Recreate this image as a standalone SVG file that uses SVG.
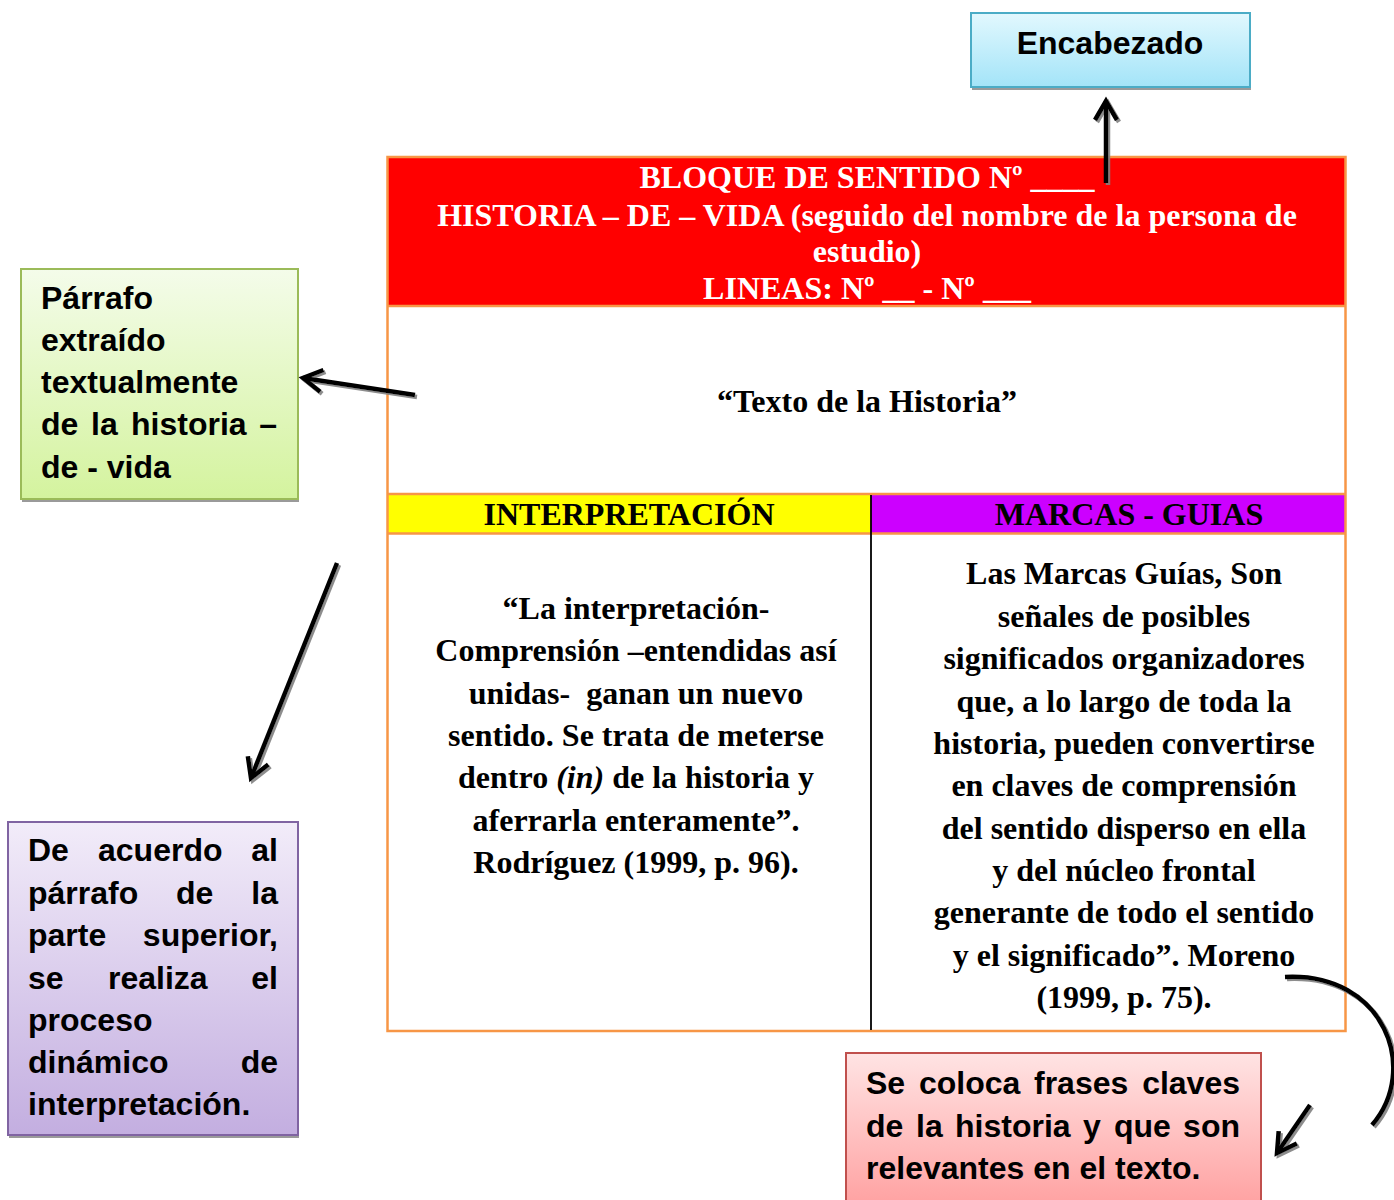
<svg xmlns="http://www.w3.org/2000/svg" width="1394" height="1200" viewBox="0 0 1394 1200">
<defs>
<style>
.tr{font-family:"Liberation Serif","Times New Roman",serif;font-weight:bold;font-size:32px;fill:#000}
.ar{font-family:"Liberation Sans",Arial,sans-serif;font-weight:bold;font-size:32px;fill:#000}
.w{fill:#fff}
.m{text-anchor:middle}
.e{text-anchor:end}
.it{font-style:italic}
.shadow{fill:#9a9a9a}
.grid{stroke:#F79646;stroke-width:2.5;fill:none}
.arrow{stroke:#000;stroke-width:4.5;fill:none;stroke-linecap:butt}
</style>
<linearGradient id="gBlue" x1="0" y1="0" x2="0" y2="1"><stop offset="0" stop-color="#E2F8FE"/><stop offset="1" stop-color="#A3E4F8"/></linearGradient>
<linearGradient id="gGreen" x1="0" y1="0" x2="0" y2="1"><stop offset="0" stop-color="#F4FCEA"/><stop offset="1" stop-color="#D4F39E"/></linearGradient>
<linearGradient id="gPurple" x1="0" y1="0" x2="0" y2="1"><stop offset="0" stop-color="#F2ECF9"/><stop offset="1" stop-color="#C3AEE0"/></linearGradient>
<linearGradient id="gPink" x1="0" y1="0" x2="0" y2="1"><stop offset="0" stop-color="#FFE4E4"/><stop offset="1" stop-color="#FF9E9E"/></linearGradient>
<marker id="head" markerUnits="userSpaceOnUse" viewBox="-30 -20 40 40" markerWidth="40" markerHeight="40" refX="0" refY="0" orient="auto" overflow="visible">
<path d="M-19,-11 L0,0 L-19,11" fill="none" stroke="#000" stroke-width="4.5" stroke-linejoin="miter"/>
</marker>
<filter id="dsh" filterUnits="userSpaceOnUse" x="0" y="0" width="1394" height="1200">
<feDropShadow dx="2" dy="2" stdDeviation="0.7" flood-color="#808080" flood-opacity="0.9"/>
</filter>
</defs>
<rect width="1394" height="1200" fill="#fff"/>

<g id="encabezado">
<rect class="shadow" x="972" y="16" width="279" height="74"/>
<rect x="971" y="13" width="279" height="74" fill="url(#gBlue)" stroke="#4BACC6" stroke-width="2"/>
<text class="ar m" x="1110" y="54">Encabezado</text>
</g>

<g id="tabla">
<rect x="387" y="157" width="959" height="149" fill="#FF0000"/>
<rect x="387" y="494" width="484" height="39" fill="#FFFF00"/>
<rect x="871" y="494" width="475" height="39" fill="#CC00FF"/>
<rect class="grid" x="387.5" y="157" width="958" height="874"/>
<line class="grid" x1="387" y1="306" x2="1346" y2="306"/>
<line class="grid" x1="387" y1="494" x2="1346" y2="494"/>
<line class="grid" x1="387" y1="533.5" x2="1346" y2="533.5"/>
<line x1="871" y1="495" x2="871" y2="1030" stroke="#000" stroke-width="1.8"/>
<text class="tr w m" x="867" y="188">BLOQUE DE SENTIDO Nº ____</text>
<text class="tr w m" x="867" y="226">HISTORIA – DE – VIDA (seguido del nombre de la persona de</text>
<text class="tr w m" x="867" y="262">estudio)</text>
<text class="tr w m" x="867" y="299">LINEAS: Nº __ - Nº ___</text>
<text class="tr m" x="867" y="412">“Texto de la Historia”</text>
<text class="tr m" x="629" y="525">INTERPRETACIÓN</text>
<text class="tr m" x="1129" y="525">MARCAS - GUIAS</text>
<g class="tr m">
<text x="636" y="619">“La interpretación-</text>
<text x="636" y="661">Comprensión –entendidas así</text>
<text x="636" y="704">unidas-&#160; ganan un nuevo</text>
<text x="636" y="746">sentido. Se trata de meterse</text>
<text x="636" y="788">dentro <tspan class="it">(in)</tspan> de la historia y</text>
<text x="636" y="831">aferrarla enteramente”.</text>
<text x="636" y="873">Rodríguez (1999, p. 96).</text>
</g>
<g class="tr m">
<text x="1124" y="584">Las Marcas Guías, Son</text>
<text x="1124" y="627">señales de posibles</text>
<text x="1124" y="669">significados organizadores</text>
<text x="1124" y="712">que, a lo largo de toda la</text>
<text x="1124" y="754">historia, pueden convertirse</text>
<text x="1124" y="796">en claves de comprensión</text>
<text x="1124" y="839">del sentido disperso en ella</text>
<text x="1124" y="881">y del núcleo frontal</text>
<text x="1124" y="923">generante de todo el sentido</text>
<text x="1124" y="966">y el significado”. Moreno</text>
<text x="1124" y="1008">(1999, p. 75).</text>
</g>
</g>

<g id="parrafo">
<rect class="shadow" x="22" y="272" width="277" height="230"/>
<rect x="21" y="269" width="277" height="230" fill="url(#gGreen)" stroke="#9BBB59" stroke-width="2"/>
<text class="ar" x="41" y="309">Párrafo</text>
<text class="ar" x="41" y="351">extraído</text>
<text class="ar" x="41" y="393">textualmente</text>
<text class="ar" y="435"><tspan x="41">de</tspan><tspan x="91">la</tspan><tspan x="131">historia</tspan></text>
<text class="ar e" x="277" y="435">–</text>
<text class="ar" x="41" y="478">de - vida</text>
</g>

<g id="interpretacion-nota">
<rect class="shadow" x="9" y="825" width="290" height="313"/>
<rect x="8" y="822" width="290" height="313" fill="url(#gPurple)" stroke="#8064A2" stroke-width="2"/>
<text class="ar" y="861"><tspan x="28">De</tspan><tspan x="98">acuerdo</tspan></text>
<text class="ar e" x="278" y="861">al</text>
<text class="ar" y="904"><tspan x="28">párrafo</tspan><tspan x="176">de</tspan></text>
<text class="ar e" x="278" y="904">la</text>
<text class="ar" x="28" y="946">parte</text>
<text class="ar e" x="278" y="946">superior,</text>
<text class="ar" y="989"><tspan x="28">se</tspan><tspan x="108">realiza</tspan></text>
<text class="ar e" x="278" y="989">el</text>
<text class="ar" x="28" y="1031">proceso</text>
<text class="ar" x="28" y="1073">dinámico</text>
<text class="ar e" x="278" y="1073">de</text>
<text class="ar" x="28" y="1115">interpretación.</text>
</g>

<g id="frases-nota">
<rect x="846" y="1053" width="415" height="160" fill="url(#gPink)" stroke="#C0504D" stroke-width="2"/>
<text class="ar" y="1094"><tspan x="866">Se</tspan><tspan x="919">coloca</tspan><tspan x="1034">frases</tspan></text>
<text class="ar e" x="1240" y="1094">claves</text>
<text class="ar" y="1137"><tspan x="866">de</tspan><tspan x="916">la</tspan><tspan x="955">historia</tspan><tspan x="1083">y</tspan><tspan x="1114">que</tspan></text>
<text class="ar e" x="1240" y="1137">son</text>
<text class="ar" x="866" y="1179">relevantes en el texto.</text>
</g>

<g id="connectors" filter="url(#dsh)">
<line class="arrow" x1="1106" y1="183" x2="1106" y2="101" marker-end="url(#head)"/>
<line class="arrow" x1="415" y1="395" x2="303" y2="378" marker-end="url(#head)"/>
<line class="arrow" x1="337" y1="563" x2="251" y2="778" marker-end="url(#head)"/>
<path class="arrow" d="M1285,977 C1385,972 1420,1070 1372,1125"/>
<line class="arrow" x1="1310" y1="1105" x2="1277" y2="1153" marker-end="url(#head)"/>
</g>
</svg>
